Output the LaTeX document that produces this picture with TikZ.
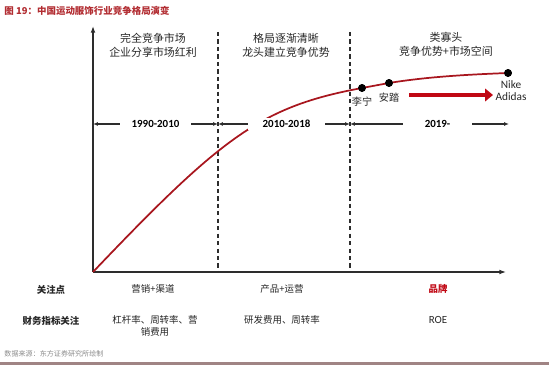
\documentclass[tikz,border=0pt]{standalone}
\usepackage{fontspec}
\setmainfont{Carlito}
\newfontfamily\cjk{Noto Sans CJK SC}
\usetikzlibrary{arrows.meta}

\definecolor{titlered}{RGB}{178,45,50}
\definecolor{curvered}{RGB}{168,22,30}
\definecolor{arrowred}{RGB}{192,8,20}
\definecolor{axisgray}{RGB}{45,45,45}
\definecolor{srcgray}{RGB}{140,140,140}
\definecolor{rulebrown}{RGB}{160,132,132}

\tikzset{every picture/.style={line width=0.75pt}}

\begin{document}
\begin{tikzpicture}[x=0.75pt,y=0.75pt,yscale=-1,xscale=1,
	axisline/.style={draw=axisgray,line width=1.1pt,-{Latex[length=5pt,width=3.6pt]}},
	phaseline/.style={draw=axisgray,line width=1.1pt,dash pattern=on 3.2pt off 2.4pt},
	period/.style={draw=axisgray,line width=0.9pt,{Latex[length=3.6pt,width=2.8pt]}-{Latex[length=3.6pt,width=2.8pt]}},
	periodlabel/.style={fill=white,inner ysep=2pt,inner xsep=9pt,font=\bfseries\fontsize{8.2}{9}\selectfont},
	header/.style={align=center,font=\cjk\fontsize{8.2}{10.5}\selectfont,text=black!85},
	cell/.style={align=center,font=\cjk\fontsize{7.1}{9}\selectfont,text=black!85},
	dot/.style={circle,fill=black,inner sep=0pt,minimum size=5.8pt},
	brand/.style={font=\fontsize{8.5}{9}\selectfont,text=black!85}]
	\useasboundingbox (0,0) rectangle (549,366);
	
	%title and source
	\node [anchor=west,inner sep=0.75pt,text=titlered,font=\cjk\bfseries\fontsize{7.1}{8}\selectfont] (title) at (3,11) {图 19：中国运动服饰行业竞争格局演变};
	\node [anchor=west,inner sep=0.75pt,text=srcgray,font=\cjk\fontsize{5.3}{6}\selectfont] (source) at (3,354) {数据来源：东方证券研究所绘制};
	\draw [rulebrown,line width=1.6pt] (0,363.5) -- (549,363.5) ;
	
	%axes
	\coordinate (O) at (93,272);
	\coordinate (ytop) at (93,26);
	\coordinate (xend) at (506,272);
	\draw [axisline] (O) -- (ytop) ;
	\draw [axisline] (O) -- (xend) ;
	
	%phase borders
	\coordinate (d1t) at (218,32);
	\coordinate (d1b) at (218,272);
	\coordinate (d2t) at (350,32);
	\coordinate (d2b) at (350,272);
	\draw [phaseline] (d1t) -- (d1b) ;
	\draw [phaseline] (d2t) -- (d2b) ;
	
	%curve with brands
	\node [dot] (ln) at (362,88) {};
	\node [dot] (ad) at (389,83) {};
	\node [dot] (nk) at (508,73) {};
	\draw [curvered,line width=1.3pt] (O) .. controls (223,135.5) and (262,106.5) .. (ln.center) -- (ad.center) .. controls (429,76.5) and (470,74.5) .. (nk.center) ;
	\node [dot] at (ln) {};
	\node [dot] at (ad) {};
	\node [dot] at (nk) {};
	
	%periods
	\coordinate (p1l) at (93,124);
	\coordinate (p1r) at (218,124);
	\coordinate (p2l) at (218,124);
	\coordinate (p2r) at (350,124);
	\coordinate (p3l) at (350,124);
	\coordinate (p3r) at (509,124);
	\draw [period] (p1l) -- (p1r) ;
	\draw [period] (p2l) -- (p2r) ;
	\draw [period] (p3l) -- (p3r) ;
	\node [periodlabel] (t1) at (155.5,124) {1990-2010};
	\node [periodlabel,inner xsep=11pt] (t2) at (286.5,124) {2010-2018};
	\node [periodlabel,inner xsep=16pt] (t3) at (437.5,124) {2019-};
	
	%phase headers
	\node [header] (h1) at (153,45) {完全竞争市场\\企业分享市场红利};
	\node [header] (h2) at (286,45) {格局逐渐清晰\\龙头建立竞争优势};
	\node [header] (h3) at (446,44.5) {类寡头\\竞争优势+市场空间};
	
	%brand labels
	\node [cell,font=\cjk\fontsize{7.6}{9}\selectfont] (lnlab) at (362,102) {李宁};
	\node [cell,font=\cjk\fontsize{7.6}{9}\selectfont] (adlab) at (389,98) {安踏};
	\node [brand,align=center,font=\fontsize{8.5}{9}\selectfont] (nklab) at (511,91) {Nike\\Adidas};
	
	%big arrow
	\coordinate (ra) at (409,95);
	\coordinate (rb) at (493,95);
	\draw [arrowred,line width=3.4pt,-{Triangle[length=6pt,width=9.5pt]}] (ra) -- (rb) ;
	
	%table below
	\node [cell,font=\cjk\bfseries\fontsize{7.1}{9}\selectfont] (r1) at (51,290) {关注点};
	\node [cell,font=\cjk\bfseries\fontsize{7.1}{9}\selectfont] (r2) at (51,321) {财务指标关注};
	\node [cell] (c11) at (153,289) {营销+渠道};
	\node [cell] (c12) at (282,289) {产品+运营};
	\node [cell,text=arrowred,font=\cjk\bfseries\fontsize{7.1}{9}\selectfont] (c13) at (438,289) {品牌};
	\node [cell] (c21) at (155,326) {杠杆率、周转率、营\\销费用};
	\node [cell] (c22) at (282,320) {研发费用、周转率};
	\node [brand,font=\fontsize{8.2}{9}\selectfont] (c23) at (438,320) {ROE};
	
\end{tikzpicture}
\end{document}
